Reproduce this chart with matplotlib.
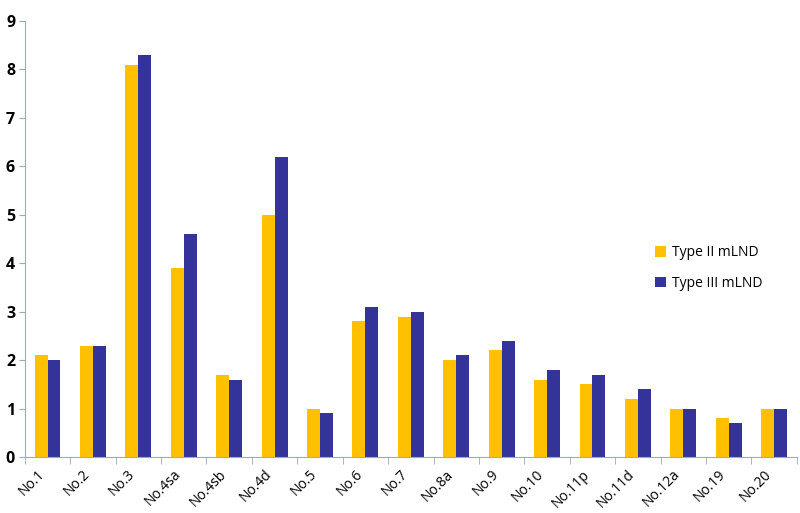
import matplotlib
matplotlib.use("Agg")
import matplotlib.pyplot as plt
import numpy as np

stations = ["No.1", "No.2", "No.3", "No.4sa", "No.4sb", "No.4d", "No.5", "No.6",
            "No.7", "No.8a", "No.9", "No.10", "No.11p", "No.11d", "No.12a",
            "No.19", "No.20"]
type2 = [2.1, 2.3, 8.1, 3.9, 1.7, 5.0, 1.0, 2.8, 2.9, 2.0, 2.2, 1.6, 1.5, 1.2, 1.0, 0.8, 1.0]
type3 = [2.0, 2.3, 8.3, 4.6, 1.6, 6.2, 0.9, 3.1, 3.0, 2.1, 2.4, 1.8, 1.7, 1.4, 1.0, 0.7, 1.0]

plt.rcParams['font.family'] = ['Open Sans', 'DejaVu Sans']

fig = plt.figure(figsize=(8, 5.13), dpi=100)
ax = fig.add_axes([0.031, 0.109, 0.965, 0.85])

x = np.arange(len(stations))
w = 0.285
ax.bar(x - w / 2, type2, w, color="#FFC000", label="Type II mLND")
ax.bar(x + w / 2, type3, w, color="#333399", label="Type III mLND")

ax.set_xlim(-0.5, len(stations) - 0.5)
ax.set_ylim(0, 9)
ax.set_yticks(range(0, 10))
ax.set_yticklabels([str(i) for i in range(10)], fontsize=11.5, fontweight="bold")

ax.set_xticks(x)
ax.set_xticklabels(stations, rotation=45, ha="right", fontsize=10)
ax.tick_params(axis="x", length=0, pad=7)
ax.set_xticks(np.arange(-0.5, len(stations), 1), minor=True)
ax.tick_params(axis="x", which="minor", length=5, color="#A0A8C0")
ax.tick_params(axis="y", length=4, color="#A0A8C0", pad=3)

for s in ["top", "right"]:
    ax.spines[s].set_visible(False)
ax.spines["left"].set_color("#A0A8C0")
ax.spines["bottom"].set_color("#A0A8C0")

ax.legend(loc="upper left", bbox_to_anchor=(0.8, 0.515), frameon=False, fontsize=10,
          handlelength=0.8, handleheight=0.8, labelspacing=1.15, handletextpad=0.4)

fig.savefig("out.png", dpi=100)
